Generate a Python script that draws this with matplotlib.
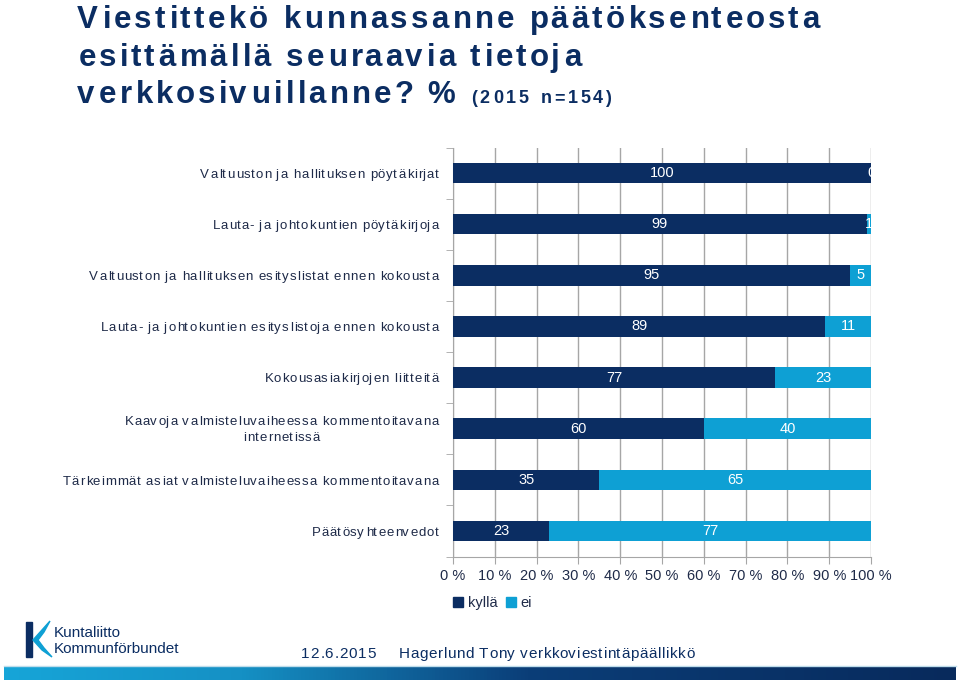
"""
Kuntaliitto 2015: do municipalities publish decision-making info on their websites?
Stacked horizontal bars, kyllä / ei, percent.
"""

import numpy as np
import matplotlib
matplotlib.use("Agg")
import matplotlib.pyplot as plt
from matplotlib.patches import Patch, Polygon, Rectangle
from matplotlib.colors import LinearSegmentedColormap
from matplotlib.font_manager import FontProperties, findfont
from matplotlib.ft2font import FT2Font

# --- data -------------------------------------------------------------
categories = [
    "Valtuuston ja hallituksen pöytäkirjat",
    "Lauta- ja johtokuntien pöytäkirjoja",
    "Valtuuston ja hallituksen esityslistat ennen kokousta",
    "Lauta- ja johtokuntien esityslistoja ennen kokousta",
    "Kokousasiakirjojen liitteitä",
    "Kaavoja valmisteluvaiheessa kommentoitavana\ninternetissä",
    "Tärkeimmät asiat valmisteluvaiheessa kommentoitavana",
    "Päätösyhteenvedot",
]
kylla = [100, 99, 95, 89, 77, 60, 35, 23]
ei = [0, 1, 5, 11, 23, 40, 65, 77]
series_names = ["kyllä", "ei"]
x_ticks = [0, 10, 20, 30, 40, 50, 60, 70, 80, 90, 100]
x_tick_labels = [f"{t} %" for t in x_ticks]

NAVY = "#0B2D62"
LIGHT = "#0EA0D4"
TEXT = "#1E2A48"
GRID = "#A6A6A6"
FAMILY = "Liberation Sans"

plt.rcParams["font.family"] = [FAMILY, "DejaVu Sans"]

W, H = 960, 681
fig = plt.figure(figsize=(W / 100, H / 100), dpi=100)


def glyph_metrics(s, size, weight):
    """Advance and left bearing (pixels, dpi 100) for each character."""
    font = FT2Font(findfont(FontProperties(family=FAMILY, weight=weight)))
    font.set_size(size, 100)
    out = []
    for ch in s:
        g = font.load_char(ord(ch))
        out.append((g.linearHoriAdvance / 65536, g.horiBearingX / 64))
    return out


def spaced_text(x, y, s, size, tracking, ha="left", weight="normal", **kw):
    """Draw letter-spaced text; x, y in image pixels (y = baseline, from top)."""
    m = glyph_metrics(s, size, weight)
    total = sum(a for a, _ in m) + tracking * (len(s) - 1)
    if ha == "right":
        x -= total
    elif ha == "center":
        x -= total / 2
    pen = x
    for ch, (adv, bear) in zip(s, m):
        if ch != " ":
            fig.text((pen + bear) / W, 1 - y / H, ch, fontsize=size, fontweight=weight,
                     ha="left", va="baseline", **kw)
        pen += adv + tracking
    return total


# --- title ------------------------------------------------------------
title_kw = dict(size=22.5, tracking=3.15, weight="bold", color=NAVY)
spaced_text(77, 28, "Viestittekö kunnassanne päätöksenteosta", **title_kw)
spaced_text(77, 66, "esittämällä seuraavia tietoja", **title_kw)
spaced_text(77, 103, "verkkosivuillanne? %", **title_kw)
spaced_text(470, 103, "(2015 n=154)", size=13, tracking=3.0, weight="bold", color=NAVY)

# --- chart ------------------------------------------------------------
ax = fig.add_axes([453 / W, 1 - 556.5 / H, 418 / W, 409 / H])
y = np.arange(len(categories))
b1 = ax.barh(y, kylla, height=0.4, color=NAVY, label=series_names[0], zorder=3)
b2 = ax.barh(y, ei, left=kylla, height=0.4, color=LIGHT, label=series_names[1], zorder=3)
for bars in (b1, b2):
    labels = ax.bar_label(bars, label_type="center", color="white", fontsize=10.5)
    for t in labels:
        t.set_clip_on(True)

ax.set_xlim(0, 100)
ax.set_ylim(len(categories) - 0.5, -0.5)
ax.set_xticks(x_ticks)
ax.set_xticklabels(x_tick_labels, fontsize=10.5, color=TEXT)
ax.set_yticks(y)
ax.set_yticklabels([])
ax.set_yticks(np.arange(-0.5, len(categories)), minor=True)
ax.tick_params(axis="y", which="major", length=0)
ax.tick_params(axis="y", which="minor", length=5, color=GRID)
ax.tick_params(axis="x", length=5, color=GRID, pad=4)
ax.grid(axis="x", color=GRID, linewidth=1, zorder=0)
for side in ("top", "right"):
    ax.spines[side].set_visible(False)
for side in ("left", "bottom"):
    ax.spines[side].set_color(GRID)

# category labels, letter-spaced, placed on the axis' own y positions
label_size = 9.5
tracking = 0.85
cap = 0.716 * label_size * 100 / 72
for i, label in enumerate(categories):
    cy = H - ax.transData.transform((0, i))[1]
    lines = label.split("\n")
    widths = [sum(a for a, _ in glyph_metrics(t, label_size, "normal")) + tracking * (len(t) - 1)
              for t in lines]
    center_x = 438 - max(widths) / 2
    for k, line in enumerate(lines):
        base = cy + cap / 2 + (k - (len(lines) - 1) / 2) * 16
        spaced_text(center_x, base, line, label_size, tracking, ha="center", color=TEXT)

handles = [Patch(color=NAVY), Patch(color=LIGHT)]
fig.legend(handles, series_names, loc="center left",
           bbox_to_anchor=(440 / W, 1 - 603 / H), ncol=2, frameon=False,
           fontsize=10.5, handlelength=0.7, handleheight=0.7, handletextpad=0.3,
           columnspacing=0.6, labelcolor=TEXT)

# --- footer -----------------------------------------------------------


def px(x, y_):
    return (x / W, 1 - y_ / H)


# logo: navy stem + light blue swoosh
fig.patches.append(Rectangle(px(26, 657), 6 / W, 35 / H, color=NAVY,
                             transform=fig.transFigure))
fig.patches.append(Polygon([px(33, 640), px(50, 621), px(44, 632), px(38, 640),
                            px(44, 648), px(52, 657), px(42, 650)],
                           closed=True, color=LIGHT, transform=fig.transFigure))
fig.text(54 / W, 1 - 637 / H, "Kuntaliitto", color=NAVY, fontsize=11, va="baseline")
fig.text(54 / W, 1 - 653 / H, "Kommunförbundet", color=NAVY, fontsize=11, va="baseline")
spaced_text(300, 658, "12.6.2015", 11, 0.9, color=NAVY)
spaced_text(398, 658, "Hagerlund Tony verkkoviestintäpäällikkö", 11, 0.6, color=NAVY)

# gradient stripe at the bottom
stripe = fig.add_axes([4 / W, 1 - 680 / H, 952 / W, 13 / H])
cmap = LinearSegmentedColormap.from_list("stripe", [(0, "#17A5D8"), (0.25, "#1590C4"),
                                                    (0.55, "#0B3E78"), (1, "#082A5C")])
stripe.imshow(np.linspace(0, 1, 256)[None, :], aspect="auto", cmap=cmap)
stripe.set_axis_off()
fig.lines.append(plt.Line2D([4 / W, 956 / W], [1 - 666 / H] * 2, color="#BFDDEB",
                            linewidth=1, transform=fig.transFigure))

fig.savefig("out.png", dpi=100)
